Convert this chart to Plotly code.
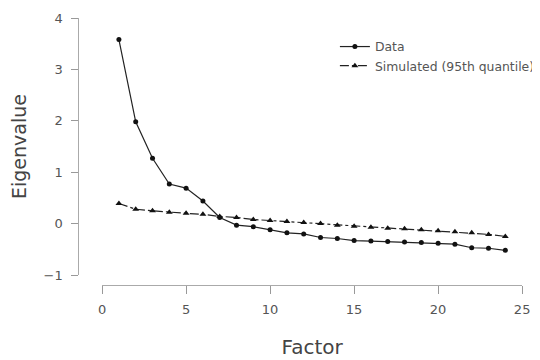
import plotly.graph_objects as go

factors = list(range(1, 25))
data_eigen = [3.58, 1.98, 1.27, 0.77, 0.69, 0.44, 0.12, -0.03, -0.06, -0.12, -0.18, -0.20,
              -0.27, -0.29, -0.33, -0.34, -0.35, -0.36, -0.37, -0.38, -0.40, -0.47, -0.48, -0.52]
sim_eigen = [0.39, 0.28, 0.25, 0.22, 0.20, 0.18, 0.14, 0.12, 0.08, 0.06, 0.04, 0.02,
             0.00, -0.03, -0.05, -0.07, -0.09, -0.10, -0.12, -0.14, -0.16, -0.18, -0.21, -0.25]
x_ticks = [0, 5, 10, 15, 20, 25]
y_ticks = [-1, 0, 1, 2, 3, 4]

# page body has an 8px margin; figure sized to fit the 540x360 window
OFF = 8
W, H = 540 - OFF, 360 - OFF

def fx(px):
    return (px - OFF) / W

def fy(py):
    return (H - (py - OFF)) / H

fig = go.Figure()
fig.add_trace(go.Scatter(
    x=factors, y=data_eigen, mode="lines+markers", name="Data",
    line=dict(color="#222222", width=1.2),
    marker=dict(symbol="circle", size=5, color="#111111"),
))
fig.add_trace(go.Scatter(
    x=factors, y=sim_eigen, mode="lines+markers", name="Simulated (95th quantile)",
    line=dict(color="#222222", width=1.2, dash="dashdot"),
    marker=dict(symbol="triangle-up", size=6, color="#111111"),
))

font = "DejaVu Sans, Arial, sans-serif"
fig.update_layout(
    width=W, height=H,
    margin=dict(l=0, r=0, t=0, b=0),
    paper_bgcolor="white", plot_bgcolor="white",
    font=dict(family=font, color="#444444"),
    showlegend=True,
    legend=dict(x=fx(338), y=fy(32), xanchor="left", yanchor="top",
                font=dict(size=12.4, color="#555555"), itemwidth=30,
                bgcolor="rgba(0,0,0,0)", tracegroupgap=0),
    xaxis=dict(
        domain=[fx(103), fx(527)], range=[0, 25], anchor="free", position=fy(285),
        automargin=False,
        tickvals=x_ticks, ticks="outside", ticklen=8, tickcolor="#999999",
        ticklabelstandoff=4,
        showline=True, linecolor="#aaaaaa", linewidth=1, showgrid=False, zeroline=False,
        tickfont=dict(size=13, color="#555555"),
        title=dict(text="Factor", font=dict(size=20, color="#444444"), standoff=24),
    ),
    yaxis=dict(
        domain=[fy(275), fy(18)], range=[-1, 4], anchor="free", position=fx(79),
        automargin=False,
        tickvals=y_ticks, ticks="outside", ticklen=7, tickcolor="#999999",
        ticklabelstandoff=6,
        showline=True, linecolor="#aaaaaa", linewidth=1, showgrid=False, zeroline=False,
        tickfont=dict(size=13, color="#555555"),
        title=dict(text="Eigenvalue", font=dict(size=19, color="#444444"), standoff=18),
    ),
)

fig.write_html("out.html")
